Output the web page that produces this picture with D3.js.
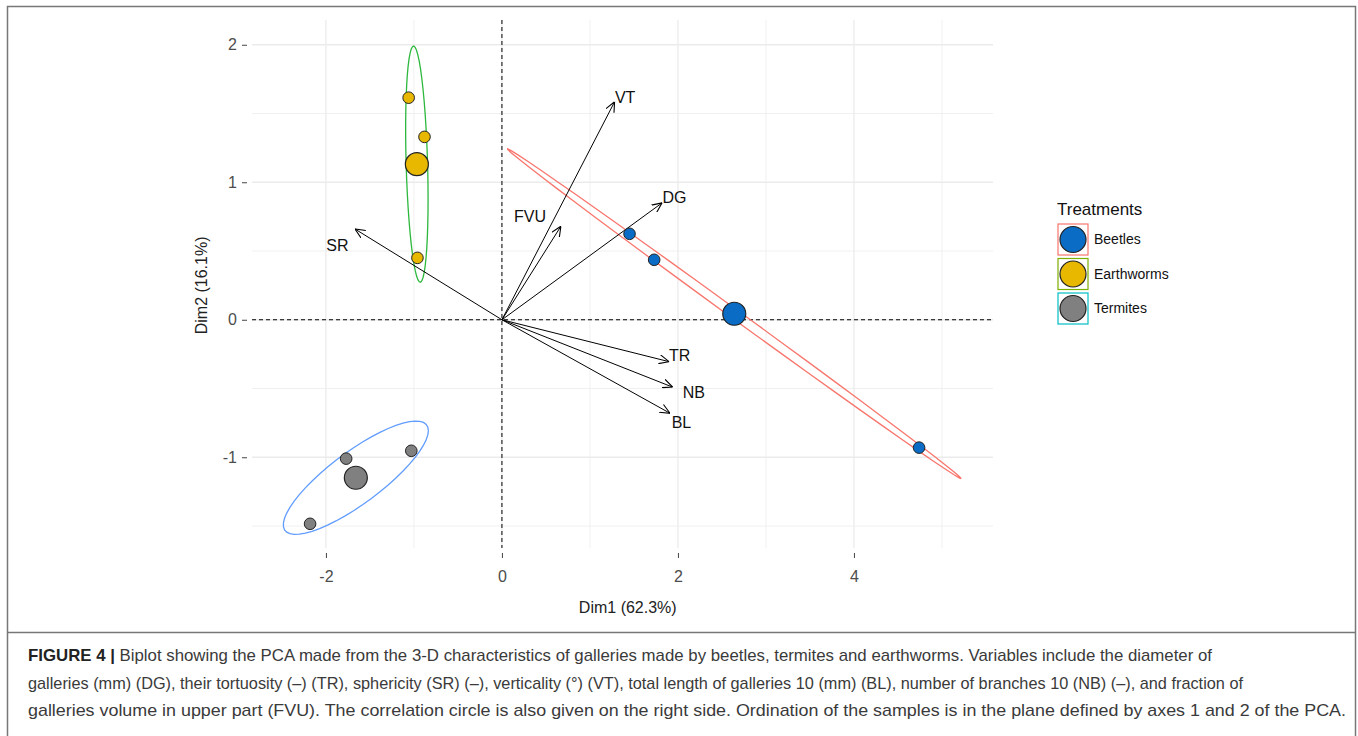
<!DOCTYPE html>
<html>
<head>
<meta charset="utf-8">
<title>PCA biplot</title>
<script src="https://d3js.org/d3.v7.min.js"></script>
<style>
  body { margin: 0; background: #fff; }
  svg { display: block; font-family: "Liberation Sans", Arial, sans-serif; }
</style>
</head>
<body>
<div id="chart"></div>
<script>
// ---- data ----
var groups = ["Beetles", "Earthworms", "Termites"];
var fillColors = ["#0a6cc4", "#e8b800", "#808080"];
var ellipseColors = ["#f8766d", "#2db83d", "#619cff"];
var keyColors = ["#f8766d", "#7cae00", "#00bfc4"];

// individual samples (Dim1, Dim2)
var sampleGroup = ["Beetles", "Beetles", "Beetles",
                   "Earthworms", "Earthworms", "Earthworms",
                   "Termites", "Termites", "Termites"];
var sampleDim1 = [1.45, 1.73, 4.74, -1.06, -0.88, -0.96, -1.77, -1.03, -2.18];
var sampleDim2 = [0.625, 0.436, -0.93, 1.615, 1.33, 0.45, -1.01, -0.953, -1.484];

// variable arrows
var varNames = ["VT", "FVU", "DG", "SR", "TR", "NB", "BL"];
var varDim1 = [1.28, 0.67, 1.82, -1.67, 1.90, 1.94, 1.91];
var varDim2 = [1.585, 0.68, 0.85, 0.66, -0.305, -0.49, -0.68];
// label anchor points (data units)
var labDim1 = [1.40, 0.32, 1.96, -1.87, 2.02, 2.18, 2.04];
var labDim2 = [1.62, 0.75, 0.89, 0.54, -0.26, -0.53, -0.75];

var xTicks = [-2, 0, 2, 4];
var xMinor = [-1, 1, 3, 5];
var yTicks = [-1, 0, 1, 2];
var yMinor = [-1.5, -0.5, 0.5, 1.5];

var captionLines = [
  "Biplot showing the PCA made from the 3-D characteristics of galleries made by beetles, termites and earthworms. Variables include the diameter of",
  "galleries (mm) (DG), their tortuosity (\u2013) (TR), sphericity (SR) (\u2013), verticality (\u00b0) (VT), total length of galleries 10 (mm) (BL), number of branches 10 (NB) (\u2013), and fraction of",
  "galleries volume in upper part (FVU). The correlation circle is also given on the right side. Ordination of the samples is in the plane defined by axes 1 and 2 of the PCA."
];

// ---- layout ----
var W = 1358, H = 736;
var panel = {left: 252, right: 993, top: 20, bottom: 548};

var svg = d3.select("#chart").append("svg")
    .attr("width", W).attr("height", H);

// figure frame
svg.append("rect")
    .attr("x", 7.5).attr("y", 6.5).attr("width", 1348).attr("height", 760)
    .attr("fill", "none").attr("stroke", "#777").attr("stroke-width", 1.5);
svg.append("line")
    .attr("x1", 7.5).attr("x2", 1355.5).attr("y1", 632.5).attr("y2", 632.5)
    .attr("stroke", "#777").attr("stroke-width", 1.5);

var x = d3.scaleLinear().domain([-2.84, 5.58]).range([panel.left, panel.right]);
var y = d3.scaleLinear().domain([-1.66, 2.18]).range([panel.bottom, panel.top]);

// grid
var grid = svg.append("g");
grid.selectAll(".vminor").data(xMinor).enter().append("line")
    .attr("x1", d => x(d)).attr("x2", d => x(d))
    .attr("y1", panel.top).attr("y2", panel.bottom)
    .attr("stroke", "#f0f0f0").attr("stroke-width", 1);
grid.selectAll(".hminor").data(yMinor).enter().append("line")
    .attr("y1", d => y(d)).attr("y2", d => y(d))
    .attr("x1", panel.left).attr("x2", panel.right)
    .attr("stroke", "#f0f0f0").attr("stroke-width", 1);
grid.selectAll(".vmajor").data(xTicks).enter().append("line")
    .attr("x1", d => x(d)).attr("x2", d => x(d))
    .attr("y1", panel.top).attr("y2", panel.bottom)
    .attr("stroke", "#ebebeb").attr("stroke-width", 1.3);
grid.selectAll(".hmajor").data(yTicks).enter().append("line")
    .attr("y1", d => y(d)).attr("y2", d => y(d))
    .attr("x1", panel.left).attr("x2", panel.right)
    .attr("stroke", "#ebebeb").attr("stroke-width", 1.3);

// axes (ticks + labels only), plain hyphen minus like the original
var fmt = d => String(d);
var xAxis = svg.append("g")
    .attr("transform", "translate(0," + (panel.bottom + 5) + ")")
    .call(d3.axisBottom(x).tickValues(xTicks).tickSize(5).tickPadding(13).tickFormat(fmt));
var yAxis = svg.append("g")
    .attr("transform", "translate(" + (panel.left - 5) + ",0)")
    .call(d3.axisLeft(y).tickValues(yTicks).tickSize(5).tickPadding(5).tickFormat(fmt));
[xAxis, yAxis].forEach(a => {
  a.select(".domain").remove();
  a.selectAll(".tick line").attr("stroke", "#444");
  a.selectAll(".tick text").attr("fill", "#4d4d4d")
      .style("font-size", "16px").style("font-family", "'Liberation Sans', Arial, sans-serif");
});

svg.append("text").attr("x", x(1.43)).attr("y", 613)
    .attr("text-anchor", "middle").attr("font-size", 16).attr("fill", "#222")
    .text("Dim1 (62.3%)");
svg.append("text")
    .attr("transform", "translate(207," + y(0.25) + ") rotate(-90)")
    .attr("text-anchor", "middle").attr("font-size", 16).attr("fill", "#222")
    .text("Dim2 (16.1%)");

// origin dashed lines
svg.append("line")
    .attr("x1", x(0)).attr("x2", x(0)).attr("y1", panel.top).attr("y2", panel.bottom)
    .attr("stroke", "#000").attr("stroke-dasharray", "4,3");
svg.append("line")
    .attr("x1", panel.left).attr("x2", panel.right).attr("y1", y(0)).attr("y2", y(0))
    .attr("stroke", "#000").attr("stroke-dasharray", "4,3");

// samples table
var samples = sampleGroup.map((g, i) => ({group: g, d1: sampleDim1[i], d2: sampleDim2[i]}));

// ellipses from group covariance
var radius = Math.sqrt(2);
var line = d3.line().x(d => x(d[0])).y(d => y(d[1]));
var means = [];
groups.forEach((g, gi) => {
  var pts = samples.filter(s => s.group === g);
  var n = pts.length;
  var mx = d3.mean(pts, p => p.d1), my = d3.mean(pts, p => p.d2);
  means.push({group: g, d1: mx, d2: my});
  var sxx = d3.sum(pts, p => (p.d1 - mx) * (p.d1 - mx)) / (n - 1);
  var syy = d3.sum(pts, p => (p.d2 - my) * (p.d2 - my)) / (n - 1);
  var sxy = d3.sum(pts, p => (p.d1 - mx) * (p.d2 - my)) / (n - 1);
  // cholesky of the covariance matrix
  var a = Math.sqrt(sxx), b = sxy / a, c = Math.sqrt(Math.max(syy - b * b, 1e-9));
  var ring = d3.range(0, 52).map(k => {
    var t = 2 * Math.PI * k / 51;
    var u = Math.cos(t), v = Math.sin(t);
    return [mx + radius * (u * a), my + radius * (u * b + v * c)];
  });
  svg.append("path").attr("d", line(ring))
      .attr("fill", "none").attr("stroke", ellipseColors[gi]).attr("stroke-width", 1.3);
});

// arrows
svg.append("defs").append("marker")
    .attr("id", "arrow").attr("viewBox", "0 0 10 10")
    .attr("refX", 10).attr("refY", 5)
    .attr("markerWidth", 10).attr("markerHeight", 10)
    .attr("markerUnits", "userSpaceOnUse")
    .attr("orient", "auto")
  .append("path").attr("d", "M0,0.5 L10,5 L0,9.5")
    .attr("fill", "none").attr("stroke", "#000").attr("stroke-width", 1.1);

var vars = varNames.map((v, i) => ({name: v, d1: varDim1[i], d2: varDim2[i], l1: labDim1[i], l2: labDim2[i]}));
svg.append("g").selectAll("line").data(vars).enter().append("line")
    .attr("x1", x(0)).attr("y1", y(0))
    .attr("x2", d => x(d.d1)).attr("y2", d => y(d.d2))
    .attr("stroke", "#000").attr("stroke-width", 1)
    .attr("marker-end", "url(#arrow)");
svg.append("g").selectAll("text").data(vars).enter().append("text")
    .attr("x", d => x(d.l1)).attr("y", d => y(d.l2))
    .attr("text-anchor", "middle").attr("dy", "0.35em")
    .attr("font-size", 16).attr("fill", "#111")
    .text(d => d.name);

// points
var colorOf = d3.scaleOrdinal().domain(groups).range(fillColors);
svg.append("g").selectAll("circle").data(samples).enter().append("circle")
    .attr("cx", d => x(d.d1)).attr("cy", d => y(d.d2)).attr("r", 5.8)
    .attr("fill", d => colorOf(d.group)).attr("stroke", "#222").attr("stroke-width", 1);
svg.append("g").selectAll("circle").data(means).enter().append("circle")
    .attr("cx", d => x(d.d1)).attr("cy", d => y(d.d2)).attr("r", 11.5)
    .attr("fill", d => colorOf(d.group)).attr("stroke", "#222").attr("stroke-width", 1.2);

// legend
var leg = svg.append("g").attr("transform", "translate(1057,0)");
leg.append("text").attr("x", 0).attr("y", 215).attr("font-size", 17).attr("fill", "#111")
    .text("Treatments");
groups.forEach((g, i) => {
  var top = 224 + i * 34.5;
  leg.append("rect").attr("x", 1).attr("y", top).attr("width", 30).attr("height", 31)
      .attr("fill", "#fff").attr("stroke", keyColors[i]).attr("stroke-width", 1.2);
  leg.append("circle").attr("cx", 16).attr("cy", top + 15.5).attr("r", 13)
      .attr("fill", fillColors[i]).attr("stroke", "#222").attr("stroke-width", 1.2);
  leg.append("text").attr("x", 37).attr("y", top + 15.5).attr("dy", "0.35em")
      .attr("font-size", 14).attr("fill", "#111").text(g);
});

// caption
var cap = svg.append("g").attr("font-family", "'Liberation Sans Narrow', 'Liberation Sans', Arial, sans-serif")
    .attr("font-size", 17).attr("fill", "#3a3a3a");
var lineEnds = [1212, 1243, 1346];
captionLines.forEach((t, i) => {
  var txt = cap.append("text").attr("x", 28).attr("y", 661 + i * 27.5)
      .attr("textLength", lineEnds[i] - 28).attr("lengthAdjust", "spacingAndGlyphs");
  if (i === 0) {
    txt.append("tspan").attr("font-weight", "bold").attr("fill", "#222").text("FIGURE 4 | ");
  }
  txt.append("tspan").text(t);
});
</script>
</body>
</html>
